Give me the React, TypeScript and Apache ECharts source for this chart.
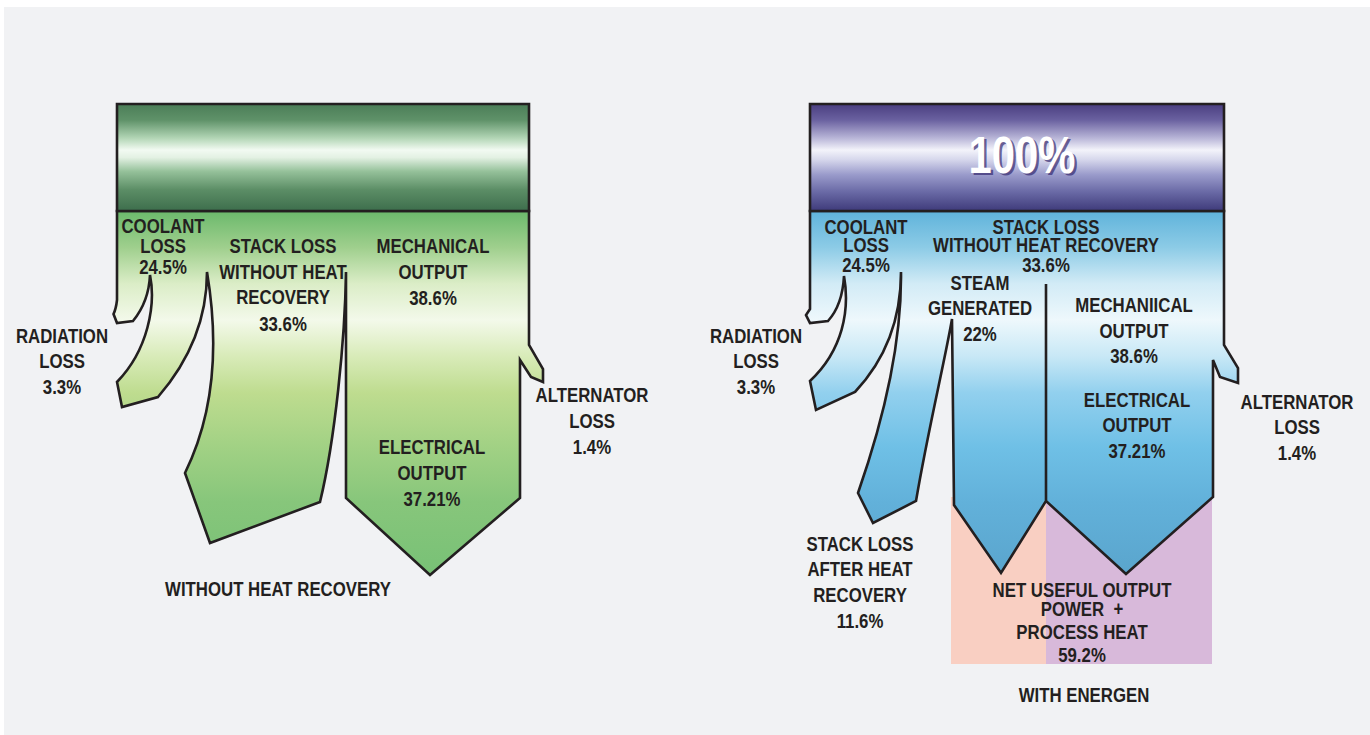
import React, { useEffect, useRef } from 'react';
import * as echarts from 'echarts';

// ---------------- DATA ----------------
const inputLabel = ['100%'];
const withoutNames = ['COOLANT\nLOSS', 'STACK LOSS\nWITHOUT HEAT\nRECOVERY', 'MECHANICAL\nOUTPUT', 'ELECTRICAL\nOUTPUT', 'RADIATION\nLOSS', 'ALTERNATOR\nLOSS'];
const withoutValues = [24.5, 33.6, 38.6, 37.21, 3.3, 1.4];
const energenNames = ['COOLANT\nLOSS', 'STACK LOSS\nWITHOUT HEAT RECOVERY', 'STEAM\nGENERATED', 'MECHANIICAL\nOUTPUT', 'ELECTRICAL\nOUTPUT', 'RADIATION\nLOSS', 'ALTERNATOR\nLOSS', 'STACK LOSS\nAFTER HEAT\nRECOVERY', 'NET USEFUL OUTPUT\nPOWER  +\nPROCESS HEAT'];
const energenValues = [24.5, 33.6, 22, 38.6, 37.21, 3.3, 1.4, 11.6, 59.2];
const panelTitles = ['WITHOUT HEAT RECOVERY', 'WITH ENERGEN'];

// ---------------- LAYOUT (axis units = page pixels) ----------------
const W = 1370;
const H = 735;
const INK = '#231f20';
const FONT = '"Liberation Sans", Arial, sans-serif';
const NARROW = 0.82;

const withoutLabelPos = [
  { x: 163, ys: [226, 246, 267] },
  { x: 283, ys: [246, 272, 297, 324] },
  { x: 433, ys: [246, 272, 298] },
  { x: 432, ys: [447, 473, 499] },
  { x: 62, ys: [336, 361, 387] },
  { x: 592, ys: [395, 421, 447] },
];
const energenLabelPos = [
  { x: 866, ys: [227, 245, 265] },
  { x: 1046, ys: [227, 245, 265] },
  { x: 980, ys: [283, 308, 334] },
  { x: 1134, ys: [305, 331, 356] },
  { x: 1137, ys: [400, 425, 451] },
  { x: 756, ys: [336, 361, 387] },
  { x: 1297, ys: [402, 427, 453] },
  { x: 860, ys: [544, 569, 595, 621] },
  { x: 1082, ys: [590, 609, 632, 655] },
];
const titlePos = [
  { x: 278, y: 589 },
  { x: 1084, y: 695 },
];

type Seg = (string | number)[];
const LEFT_BODY: Seg[] = [
  ['M', 117, 211], ['L', 117, 300], ['Q', 116, 309, 113.5, 314], ['L', 117, 323], ['L', 133, 321],
  ['C', 142, 310, 149, 297, 150, 275],
  ['C', 156, 305, 148, 350, 117, 382], ['L', 122, 407], ['L', 158, 397],
  ['C', 190, 360, 207, 320, 207, 272],
  ['C', 215, 320, 221, 400, 185, 473], ['L', 210, 543], ['L', 320, 502],
  ['C', 335, 440, 345, 340, 346, 272],
  ['L', 346, 498], ['L', 430, 575], ['L', 520, 498], ['L', 520, 360],
  ['L', 531, 377], ['L', 543, 382], ['L', 543, 369], ['L', 529, 345], ['L', 529, 211], ['Z'],
];
const RIGHT_BODY: Seg[] = [
  ['M', 810, 211], ['L', 810, 309], ['L', 806, 315], ['L', 810, 323], ['L', 828, 321],
  ['C', 837, 311, 843, 295, 844, 276],
  ['C', 850, 310, 843, 350, 810, 381], ['L', 816, 410], ['L', 855, 392],
  ['C', 885, 360, 901, 320, 901, 272],
  ['C', 902, 350, 880, 430, 858, 493], ['L', 873, 523], ['L', 916, 501],
  ['C', 928, 430, 945, 360, 952, 319],
  ['L', 954, 505], ['L', 1001, 573], ['L', 1046, 501], ['L', 1046, 284], ['L', 1046, 501],
  ['L', 1126, 574], ['L', 1213, 497], ['L', 1213, 360],
  ['L', 1220, 377], ['L', 1238, 383], ['L', 1238, 368], ['L', 1224, 345], ['L', 1224, 211], ['Z'],
];

const grad = (stops: [number, string][]) =>
  new echarts.graphic.LinearGradient(0, 0, 0, 1, stops.map(([offset, color]) => ({ offset, color })));

const greenBar = () => grad([[0, '#4b7d57'], [0.15, '#5f9269'], [0.32, '#b3d6b6'], [0.43, '#f2faf2'], [0.5, '#e3f1e3'], [0.63, '#95c19a'], [0.8, '#5c8e66'], [1, '#3d6e4c']]);
const purpleBar = () => grad([[0, '#4a3e80'], [0.15, '#6a61a0'], [0.32, '#b9b6d8'], [0.43, '#f3f3fa'], [0.52, '#d6d7ec'], [0.66, '#9a9bcb'], [0.82, '#6a6aa6'], [1, '#3e3a7a']]);
const greenBody = () => grad([[0, '#6bb96c'], [0.1, '#9fcf8d'], [0.2, '#dbedc7'], [0.3, '#f3f9ea'], [0.4, '#d8ebb8'], [0.5, '#bedc8f'], [0.65, '#a1d184'], [0.8, '#87c67b'], [1, '#78c176']]);
const blueBody = () => grad([[0, '#5fb3db'], [0.1, '#8ccbe6'], [0.2, '#d2ebf6'], [0.3, '#eef8fc'], [0.4, '#c8e8f6'], [0.5, '#92d0ee'], [0.65, '#6fc0e6'], [0.8, '#62b1da'], [1, '#5aa5cd']]);

type Shape =
  | { kind: 'rect'; x0: number; y0: number; x1: number; y1: number; fill: () => any; stroke: boolean }
  | { kind: 'path'; segs: Seg[]; fill: () => any };

const SHAPES: Shape[] = [
  { kind: 'rect', x0: 951, y0: 497, x1: 1046, y1: 664, fill: () => '#f9cfc2', stroke: false },
  { kind: 'rect', x0: 1046, y0: 497, x1: 1212, y1: 664, fill: () => '#d8b9da', stroke: false },
  { kind: 'path', segs: LEFT_BODY, fill: greenBody },
  { kind: 'path', segs: RIGHT_BODY, fill: blueBody },
  { kind: 'rect', x0: 117, y0: 104, x1: 529, y1: 211, fill: greenBar, stroke: true },
  { kind: 'rect', x0: 810, y0: 104, x1: 1224, y1: 211, fill: purpleBar, stroke: true },
];
// value carried by each mark (percent of fuel input)
const shapeValues = [energenValues[2], energenValues[4], 100, 100, 100, 100];

function pct(v: number) {
  return `${v}%`;
}

function txt(text: string, x: number, y: number, size = 20.5, fill = INK, z = 100) {
  return {
    type: 'text',
    z,
    x,
    y,
    scaleX: NARROW,
    style: {
      text,
      fill,
      fontFamily: FONT,
      fontWeight: 'bold',
      fontSize: size,
      textAlign: 'center',
      textVerticalAlign: 'middle',
      align: 'center',
      verticalAlign: 'middle',
    },
  };
}

function labelTexts(names: string[], values: number[], pos: { x: number; ys: number[] }[]) {
  const out: any[] = [];
  names.forEach((name, i) => {
    const lines = [...name.split('\n'), pct(values[i])];
    lines.forEach((line, j) => out.push(txt(line, pos[i].x, pos[i].ys[j])));
  });
  return out;
}

export default function App() {
  const ref = useRef<HTMLDivElement>(null);
  useEffect(() => {
    if (!ref.current) return;
    const chart = echarts.init(ref.current, undefined, { renderer: 'svg' });

    const renderItem = (params: any, api: any) => {
      const shp = SHAPES[params.dataIndex];
      if (shp.kind === 'rect') {
        const p0 = api.coord([shp.x0, shp.y0]);
        const p1 = api.coord([shp.x1, shp.y1]);
        return {
          type: 'rect',
          shape: { x: p0[0], y: p0[1], width: p1[0] - p0[0], height: p1[1] - p0[1] },
          style: shp.stroke
            ? { fill: shp.fill(), stroke: INK, lineWidth: 2.6, lineJoin: 'miter' }
            : { fill: shp.fill(), stroke: null },
        };
      }
      const d = shp.segs
        .map((s) => {
          const cmd = s[0] as string;
          const nums = s.slice(1) as number[];
          const pts: number[] = [];
          for (let k = 0; k < nums.length; k += 2) {
            const p = api.coord([nums[k], nums[k + 1]]);
            pts.push(+p[0].toFixed(2), +p[1].toFixed(2));
          }
          return cmd + pts.join(' ');
        })
        .join(' ');
      return {
        type: 'path',
        shape: { pathData: d },
        style: { fill: shp.fill(), stroke: INK, lineWidth: 2.6, lineJoin: 'miter', miterLimit: 10 },
      };
    };

    const graphics: any[] = [
      { type: 'rect', z: -10, shape: { x: 4, y: 7, width: W - 4, height: H - 7 }, style: { fill: '#f1f2f4' } },
      ...labelTexts(withoutNames, withoutValues, withoutLabelPos),
      ...labelTexts(energenNames, energenValues, energenLabelPos),
      ...panelTitles.map((t, i) => txt(t, titlePos[i].x, titlePos[i].y)),
      txt(inputLabel[0], 1024.5, 158, 51, 'rgba(52,40,110,0.7)', 99),
      txt(inputLabel[0], 1022, 155.5, 51, '#ffffff', 100),
    ];

    chart.setOption({
      animation: false,
      backgroundColor: '#ffffff',
      grid: { left: 0, top: 0, right: 0, bottom: 0 },
      xAxis: { type: 'value', min: 0, max: W, show: false },
      yAxis: { type: 'value', min: 0, max: H, inverse: true, show: false },
      graphic: graphics,
      series: [
        {
          type: 'custom',
          renderItem,
          silent: true,
          clip: false,
          data: SHAPES.map((_, i) => [i, shapeValues[i]]),
          encode: { x: 0, y: 1 },
          z: 2,
        },
      ],
    });
    return () => chart.dispose();
  }, []);
  return <div ref={ref} style={{ position: 'fixed', left: 0, top: 0, width: W, height: H }} />;
}
